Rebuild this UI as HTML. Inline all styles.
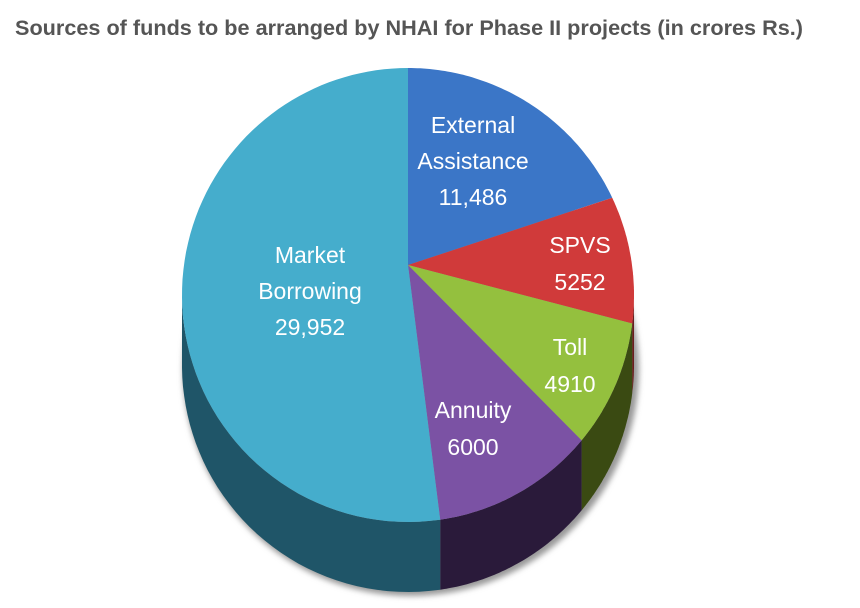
<!DOCTYPE html>
<html><head><meta charset="utf-8"><style>
html,body{margin:0;padding:0;background:#fff;width:860px;height:608px;overflow:hidden}
svg{display:block}
</style></head><body>
<svg id="chart" width="860" height="608" viewBox="0 0 860 608" xmlns="http://www.w3.org/2000/svg">
<defs>
<filter id="sh" x="-10%" y="-10%" width="120%" height="120%"><feGaussianBlur stdDeviation="3"/></filter>
</defs>
<text x="15" y="35" font-family="Liberation Sans, sans-serif" font-weight="bold" font-size="21" fill="#555" textLength="788" lengthAdjust="spacingAndGlyphs">Sources of funds to be arranged by NHAI for Phase II projects (in crores Rs.)</text>
<g id="sideG"></g><g id="topG"></g><g id="labG"></g>
</svg>
<script>
const categories=["External Assistance","SPVS","Toll","Annuity","Market Borrowing"];
const values=[11486,5252,4910,6000,29952];
const valueLabels=["11,486","5252","4910","6000","29,952"];
const topColors=["#3b76c7","#d03a3a","#94c03e","#7b52a4","#45adcc"];
const sideColors=["#203f6a","#6a1d1d","#3a4a12","#2a1a3a","#1f5568"];
const NS="http://www.w3.org/2000/svg";
const ax=408,ay=265,cx=408,cy=295,rx=226,ry=227,depth=70;
function edge(t){
  const dx=Math.sin(t),dy=-Math.cos(t);
  const ox=ax-cx,oy=ay-cy;
  const a=dx*dx/(rx*rx)+dy*dy/(ry*ry);
  const b=2*(ox*dx/(rx*rx)+oy*dy/(ry*ry));
  const c=ox*ox/(rx*rx)+oy*oy/(ry*ry)-1;
  const s=(-b+Math.sqrt(b*b-4*a*c))/(2*a);
  return [ax+s*dx,ay+s*dy];
}
const total=values.reduce((p,q)=>p+q,0);
const sideG=document.getElementById('sideG'),topG=document.getElementById('topG'),labG=document.getElementById('labG');
const sh=document.createElementNS(NS,'ellipse');
sh.setAttribute('cx',cx+3);sh.setAttribute('cy',cy+depth+4);sh.setAttribute('rx',rx+2);sh.setAttribute('ry',ry);
sh.setAttribute('fill','#999');sh.setAttribute('filter','url(#sh)');


sideG.appendChild(sh);
let acc=0;
const labelPos=[[473,125],[580,245],[570,347],[473,410],[310,255]];
values.forEach((v,i)=>{
  const t0=acc/total*2*Math.PI; acc+=v; const t1=acc/total*2*Math.PI;
  const pts=[];const N=80;
  for(let k=0;k<=N;k++)pts.push(edge(t0+(t1-t0)*k/N));
  const low=pts.filter(p=>p[1]>=cy-1);
  if(low.length>1){
    let d='M'+low.map(p=>p[0].toFixed(1)+','+p[1].toFixed(1)).join(' L');
    d+=' L'+low.slice().reverse().map(p=>p[0].toFixed(1)+','+(p[1]+depth).toFixed(1)).join(' L')+'Z';
    const s=document.createElementNS(NS,'path');
    s.setAttribute('d',d);s.setAttribute('fill',sideColors[i]);
    
    
    sideG.appendChild(s);
  }
  const p=document.createElementNS(NS,'path');
  p.setAttribute('d','M'+ax+','+ay+' L'+pts.map(q=>q[0].toFixed(1)+','+q[1].toFixed(1)).join(' L')+'Z');
  p.setAttribute('fill',topColors[i]);
  
  
  topG.appendChild(p);
  const words=categories[i].split(' ').concat([valueLabels[i]]);
  const lh=(i==1||i==2||i==3)?37:36;
  const tx=document.createElementNS(NS,'text');
  tx.setAttribute('font-family','Liberation Sans, sans-serif');
  tx.setAttribute('font-size','23');tx.setAttribute('fill','#fff');tx.setAttribute('text-anchor','middle');
  
  
  words.forEach((w,j)=>{
    const ts=document.createElementNS(NS,'tspan');
    ts.setAttribute('x',labelPos[i][0]);ts.setAttribute('y',labelPos[i][1]+8+j*lh);
    ts.textContent=w;tx.appendChild(ts);
  });
  labG.appendChild(tx);
});
</script>
</body></html>
